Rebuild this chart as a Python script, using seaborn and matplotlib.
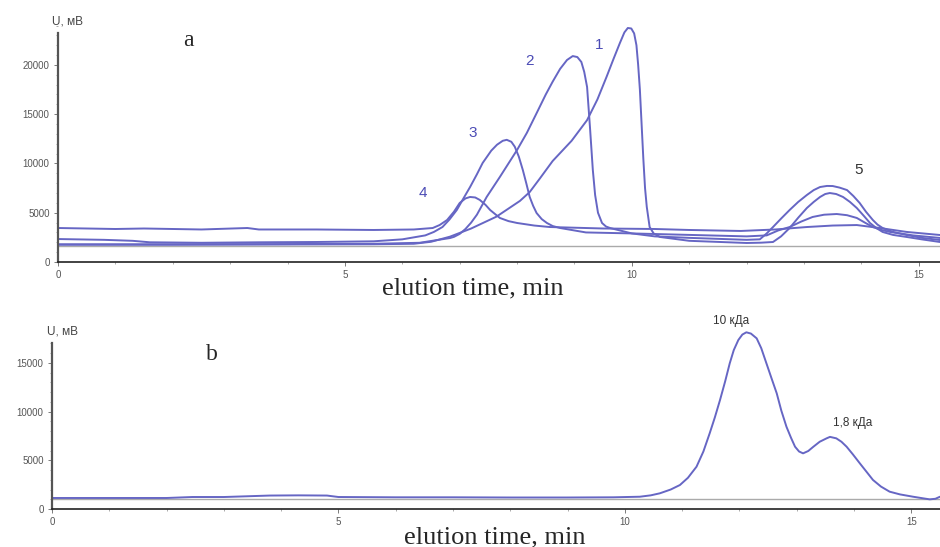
import numpy as np
import matplotlib
matplotlib.use("Agg")
import matplotlib.pyplot as plt
from matplotlib.ticker import MultipleLocator
import seaborn as sns

# -------------------------------------------------------------------
# Data (time in min, signal in mV)
# -------------------------------------------------------------------

# panel a, curve 1
c1_t = [0, 2, 4, 5.5, 6.2, 6.5, 6.83, 7.2, 7.64, 8.05, 8.22, 8.4, 8.62, 8.95,
        9.22, 9.4, 9.56, 9.68, 9.79, 9.87, 9.93, 9.99, 10.04, 10.08, 10.11,
        10.14, 10.17, 10.2, 10.23, 10.26, 10.31, 10.38, 10.49, 11.0, 12.0, 12.25,
        12.46, 12.6, 12.75, 12.9, 13.05, 13.17, 13.28, 13.37, 13.45, 13.56,
        13.68, 13.8, 13.92, 14.04, 14.15, 14.26, 14.37, 14.55, 14.79, 15.05, 15.37]
c1_v = [1750, 1750, 1780, 1800, 1850, 2050, 2570, 3400, 4600, 6200, 7100, 8500,
        10250, 12300, 14400, 16500, 18800, 20600, 22200, 23300, 23750, 23700,
        23200, 22000, 20000, 17500, 14000, 10500, 7500, 5600, 3550, 2900, 2540,
        2150, 1930, 1960, 2030, 2600, 3450, 4500, 5480, 6100, 6600, 6900, 7000,
        6900, 6600, 6100, 5480, 4700, 3960, 3450, 3050, 2750, 2540, 2300, 2030]

# panel a, curve 2
c2_t = [0, 2, 4, 5.5, 6.3, 6.83, 6.9, 7.0, 7.1, 7.2, 7.3, 7.47, 7.7, 8.0, 8.17,
        8.34, 8.5, 8.62, 8.75, 8.87, 8.97, 9.05, 9.12, 9.17, 9.22, 9.27, 9.32,
        9.36, 9.41, 9.48, 9.55, 9.62, 10.0, 10.4, 11.0, 12.0, 12.23, 12.35,
        12.46, 12.6, 12.75, 12.9, 13.05, 13.17, 13.28, 13.4, 13.5, 13.62, 13.75,
        13.86, 13.97, 14.08, 14.2, 14.28, 14.37, 14.55, 14.79, 15.05, 15.37]
c2_v = [1800, 1800, 1820, 1850, 1950, 2430, 2550, 2850, 3350, 4000, 4800, 6600,
        8630, 11370, 13100, 15100, 17000, 18300, 19600, 20500, 20900, 20800,
        20300, 19300, 17760, 13700, 9340, 6800, 5000, 3960, 3600, 3450, 2900,
        2600, 2450, 2250, 2300, 2900, 3550, 4400, 5280, 6100, 6800, 7300, 7610,
        7720, 7710, 7550, 7300, 6700, 5990, 5100, 4260, 3800, 3450, 3050, 2740,
        2450, 2230]

# panel a, curve 3
c3_t = [0, 0.8, 1.3, 1.6, 2.5, 3.5, 4.5, 5.5, 6.0, 6.4, 6.55, 6.7, 6.82, 6.95,
        7.06, 7.18, 7.3, 7.4, 7.55, 7.65, 7.75, 7.82, 7.9, 7.96, 8.03, 8.1, 8.16,
        8.22, 8.28, 8.34, 8.43, 8.52, 8.62, 8.75, 9.2, 10.0, 11.0, 12.0, 12.35,
        12.55, 12.75, 12.95, 13.15, 13.35, 13.57, 13.75, 13.92, 14.06, 14.2,
        14.35, 14.5, 14.9, 15.37]
c3_v = [2330, 2250, 2150, 2000, 1950, 2000, 2030, 2100, 2300, 2700, 3050, 3550,
        4300, 5280, 6400, 7600, 8900, 10050, 11300, 11900, 12300, 12400, 12200,
        11700, 10700, 9340, 8000, 6600, 5700, 4970, 4350, 3960, 3650, 3450, 3000,
        2900, 2750, 2600, 2700, 3200, 3550, 4100, 4570, 4800, 4870, 4750, 4470,
        4000, 3550, 3250, 3050, 2700, 2440]

# panel a, curve 4
c4_t = [0, 0.5, 1.0, 1.5, 2.5, 3.3, 3.5, 4.5, 5.5, 6.2, 6.53, 6.65, 6.78, 6.9,
        7.0, 7.1, 7.18, 7.27, 7.35, 7.45, 7.53, 7.62, 7.7, 7.85, 8.0, 8.3, 8.57,
        9.5, 10.4, 11.0, 11.9, 12.5, 13.05, 13.5, 13.92, 14.32, 14.79, 15.37]
c4_v = [3450, 3400, 3350, 3400, 3300, 3450, 3300, 3300, 3250, 3300, 3450, 3750,
        4260, 5100, 5990, 6450, 6600, 6550, 6300, 5800, 5280, 4850, 4470, 4150,
        3960, 3700, 3550, 3400, 3350, 3250, 3150, 3300, 3550, 3700, 3750, 3450,
        3050, 2740]

# panel b
b_t = [0, 1, 2, 2.45, 3, 3.8, 4.3, 4.8, 5.0, 6, 7, 8, 9, 9.8, 10.26, 10.45,
       10.61, 10.8, 10.96, 11.1, 11.25, 11.37, 11.48, 11.57, 11.66, 11.75, 11.83,
       11.9, 11.98, 12.05, 12.12, 12.2, 12.3, 12.38, 12.47, 12.56, 12.65, 12.73,
       12.82, 12.9, 12.97, 13.04, 13.11, 13.2, 13.29, 13.4, 13.52, 13.58, 13.69,
       13.78, 13.87, 13.98, 14.1, 14.22, 14.33, 14.47, 14.62, 14.8, 15.03, 15.2,
       15.32, 15.42, 15.5]
b_v = [1130, 1130, 1130, 1230, 1230, 1380, 1400, 1380, 1230, 1200, 1200, 1180,
       1180, 1200, 1260, 1400, 1610, 2000, 2460, 3200, 4340, 5900, 7770, 9400,
       11180, 13100, 14950, 16300, 17340, 17900, 18130, 18000, 17510, 16500,
       14950, 13400, 11870, 10100, 8440, 7300, 6390, 5900, 5710, 5950, 6390,
       6900, 7250, 7400, 7250, 6900, 6390, 5600, 4690, 3800, 2980, 2300, 1780,
       1500, 1260, 1100, 990, 1050, 1260]

curves_a = [(c1_t, c1_v), (c2_t, c2_v), (c3_t, c3_v), (c4_t, c4_v)]
peak_labels = ["1", "2", "3", "4", "5"]
peak_label_pos = [(9.43, 22000), (8.22, 20400), (7.23, 13100), (6.36, 7000), (13.95, 9300)]
mw_labels = ["10 кДа", "1,8 кДа"]
mw_label_pos = [(11.85, 19300), (13.98, 8800)]

# -------------------------------------------------------------------
# Figure
# -------------------------------------------------------------------
sns.set_style("ticks")
plt.rcParams["font.family"] = ["Liberation Sans", "DejaVu Sans"]

LINE = "#6666c4"
NUM = "#4b4bb5"

fig = plt.figure(figsize=(9.4, 5.47), dpi=100)
ax_a = fig.add_axes([58 / 940, 1 - 262 / 547, 882 / 940, 242 / 547])
ax_b = fig.add_axes([52 / 940, 1 - 509 / 547, 888 / 940, 184 / 547])


def style_axis(ax, xmax, ymax, spine_top, ticks):
    ax.set_xlim(0, xmax)
    ax.set_ylim(0, ymax)
    ax.set_yticks(ticks)
    ax.xaxis.set_major_locator(MultipleLocator(5))
    ax.xaxis.set_minor_locator(MultipleLocator(1))
    ax.yaxis.set_minor_locator(MultipleLocator(1000))
    for s in ["top", "right"]:
        ax.spines[s].set_visible(False)
    ax.spines["left"].set_bounds(0, spine_top)
    ax.spines["left"].set_color("#555555")
    ax.spines["left"].set_linewidth(1.6)
    ax.spines["bottom"].set_color("#222222")
    ax.spines["bottom"].set_linewidth(1.2)
    ax.tick_params(axis="both", which="major", length=3, width=0.6,
                   color="#666666", labelsize=7, labelcolor="#555555", pad=3)
    ax.tick_params(axis="both", which="minor", length=1.5, width=0.5, color="#888888")
    ax.set_xlabel("")
    ax.set_ylabel("")
    ax.patch.set_alpha(0)


# panel a
ax_a.axhline(1620, color="#aaaaaa", lw=1.0, zorder=1)
for t, v in curves_a:
    sns.lineplot(x=t, y=v, ax=ax_a, color=LINE, linewidth=1.4, estimator=None)
style_axis(ax_a, 15.37, 24560, 23240, [0, 5000, 10000, 15000, 20000])

for i, (lab, (x, y)) in enumerate(zip(peak_labels, peak_label_pos)):
    ax_a.text(x, y, lab, fontsize=11, color=NUM if i < 4 else "#333333",
              ha="center", va="center")

# panel b
ax_b.axhline(1000, color="#aaaaaa", lw=1.0, zorder=1)
sns.lineplot(x=b_t, y=b_v, ax=ax_b, color=LINE, linewidth=1.4, estimator=None)
style_axis(ax_b, 15.5, 18880, 17030, [0, 5000, 10000, 15000])

for lab, (x, y) in zip(mw_labels, mw_label_pos):
    ax_b.text(x, y, lab, fontsize=8.5, color="#333333", ha="center", va="center")

# texts outside the plotting area
fig.text(52 / 940, 1 - 22 / 547, "U, мВ", fontsize=8.5, color="#444444", va="center")
fig.text(47 / 940, 1 - 331 / 547, "U, мВ", fontsize=8.5, color="#444444", va="center")
fig.text(188 / 940, 1 - 40 / 547, "a", fontsize=17, family="Liberation Serif",
         ha="center", va="center")
fig.text(212 / 940, 1 - 355 / 547, "b", fontsize=17, family="Liberation Serif",
         ha="center", va="center")
fig.text(473 / 940, 1 - 288 / 547, "elution time, min", fontsize=19,
         family="Liberation Serif", ha="center", va="center")
fig.text(495 / 940, 1 - 537 / 547, "elution time, min", fontsize=19,
         family="Liberation Serif", ha="center", va="center")

fig.savefig("out.png", dpi=100)
